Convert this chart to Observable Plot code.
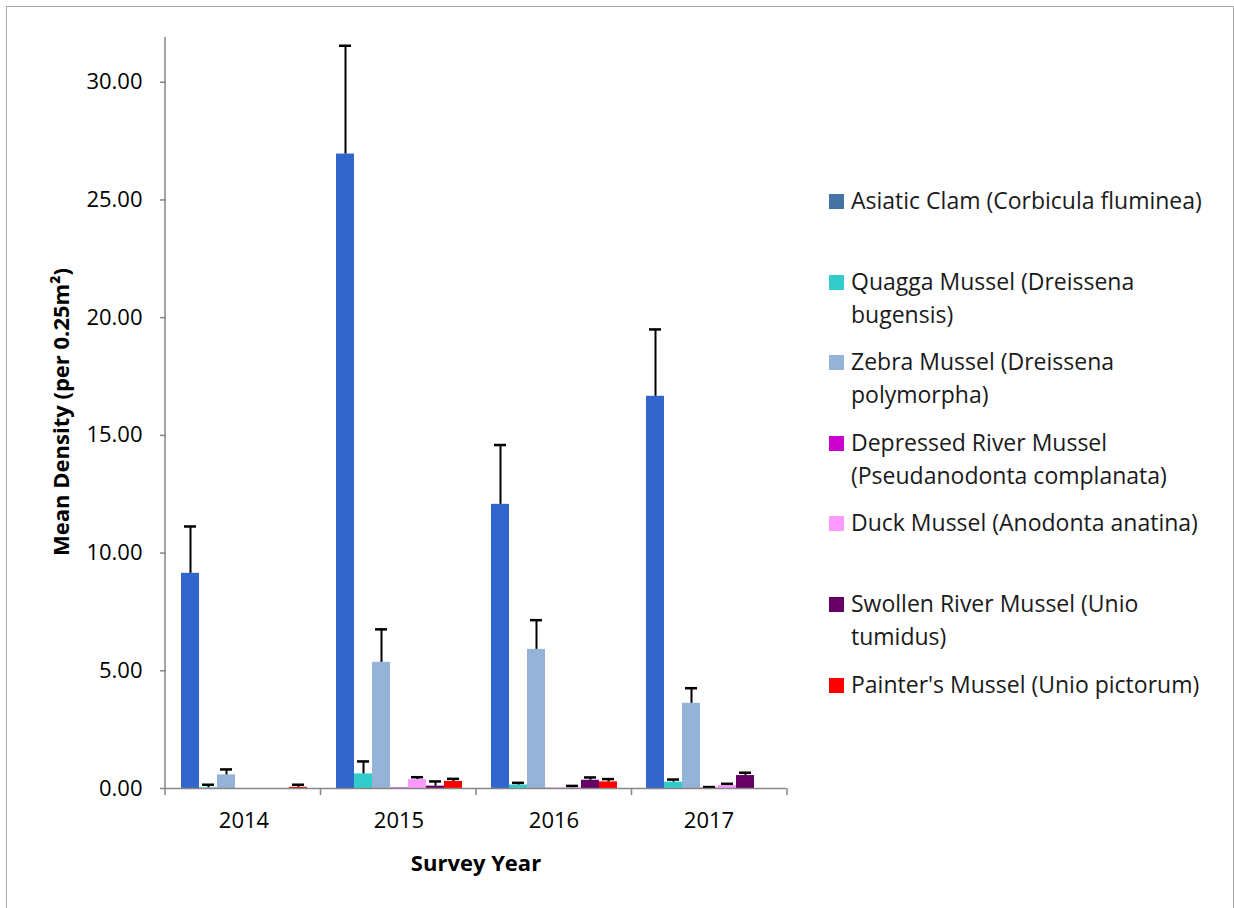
<!DOCTYPE html>
<html>
<head>
<meta charset="utf-8">
<script src="https://cdn.jsdelivr.net/npm/d3@7"></script>
<script src="https://cdn.jsdelivr.net/npm/@observablehq/plot@0.6"></script>
<style>
  html, body { margin: 0; padding: 0; background: #fff; }
  body { width: 1234px; height: 908px; position: relative; overflow: hidden; font-family: "Open Sans", sans-serif; }
  #frame { position: absolute; left: 6px; top: 6px; width: 1228px; height: 910px; border: 1.5px solid #a6a6a6; box-sizing: border-box; }
  #chart { position: absolute; left: 0; top: 0; }
  .ylabel { position: absolute; left: 60px; top: 412px; transform: translate(-50%, -50%) rotate(-90deg); font-weight: bold; font-size: 22px; white-space: nowrap; color: #000; }
  .xlabel { position: absolute; left: 476px; top: 862px; transform: translate(-50%, -50%); font-weight: bold; font-size: 22px; white-space: nowrap; color: #000; }
  .legend-item { position: absolute; left: 829px; display: flex; align-items: flex-start; }
  .sw { width: 15px; height: 15px; margin-top: -7px; flex: none; }
  .lt { margin-left: 7px; font-size: 23px; line-height: 33px; margin-top: -17px; color: #1a1a1a; white-space: nowrap; }
</style>
</head>
<body>
<div id="frame"></div>
<div id="chart"></div>
<div class="ylabel">Mean Density (per 0.25m²)</div>
<div class="xlabel">Survey Year</div>
<div id="legend"></div>
<script>
// ---- data ----
const years = ["2014", "2015", "2016", "2017"];
const species = [
  "Asiatic Clam (Corbicula fluminea)",
  "Quagga Mussel (Dreissena bugensis)",
  "Zebra Mussel (Dreissena polymorpha)",
  "Depressed River Mussel (Pseudanodonta complanata)",
  "Duck Mussel (Anodonta anatina)",
  "Swollen River Mussel (Unio tumidus)",
  "Painter's Mussel (Unio pictorum)"
];
const legendLines = [
  ["Asiatic Clam (Corbicula fluminea)"],
  ["Quagga Mussel (Dreissena", "bugensis)"],
  ["Zebra Mussel (Dreissena", "polymorpha)"],
  ["Depressed River Mussel", "(Pseudanodonta complanata)"],
  ["Duck Mussel (Anodonta anatina)"],
  ["Swollen River Mussel (Unio", "tumidus)"],
  ["Painter's Mussel (Unio pictorum)"]
];
// mean density per year (2014..2017), one array per species
const asiaticMean   = [9.14, 26.95, 12.07, 16.66];
const quaggaMean    = [0.03, 0.62, 0.15, 0.27];
const zebraMean     = [0.58, 5.36, 5.91, 3.62];
const depressedMean = [0.00, 0.02, 0.01, 0.02];
const duckMean      = [0.00, 0.38, 0.03, 0.13];
const swollenMean   = [0.00, 0.10, 0.35, 0.55];
const painterMean   = [0.05, 0.30, 0.28, 0.00];
// standard error (upper error bar)
const asiaticSE   = [1.99, 4.60, 2.52, 2.84];
const quaggaSE    = [0.13, 0.53, 0.09, 0.11];
const zebraSE     = [0.23, 1.40, 1.24, 0.64];
const depressedSE = [0.00, 0.00, 0.00, 0.04];
const duckSE      = [0.00, 0.10, 0.08, 0.07];
const swollenSE   = [0.00, 0.20, 0.12, 0.12];
const painterSE   = [0.11, 0.11, 0.12, 0.00];
const yTicks = [0, 5, 10, 15, 20, 25, 30];

const barColors = ["#3366cc", "#33cccc", "#95b3d7", "#cc00cc", "#ff99ff", "#660066", "#ff0000"];
const swatchColors = ["#4672a4", "#33cccc", "#95b3d7", "#cc00cc", "#ff99ff", "#660066", "#ff0000"];

const means = [asiaticMean, quaggaMean, zebraMean, depressedMean, duckMean, swollenMean, painterMean];
const ses = [asiaticSE, quaggaSE, zebraSE, depressedSE, duckSE, swollenSE, painterSE];
const rows = [];
species.forEach((s, i) => years.forEach((y, j) => rows.push({year: y, species: s, value: means[i][j], se: ses[i][j]})));
const errRows = rows.filter(d => d.se > 0);

const axisGrey = "#868686";
const plot = Plot.plot({
  width: 800,
  height: 908,
  marginLeft: 165,
  marginRight: 13,
  marginTop: 37,
  marginBottom: 120,
  style: {fontFamily: "'Open Sans', sans-serif", background: "transparent", overflow: "visible"},
  fx: {domain: years, paddingInner: 0, paddingOuter: 0, label: null},
  x: {domain: species, paddingInner: 0, paddingOuter: 0.7, axis: null},
  y: {domain: [0, 31.9], axis: null},
  color: {domain: species, range: barColors},
  marks: [
    Plot.barY(rows, {fx: "year", x: "species", y: "value", fill: "species"}),
    Plot.ruleX(errRows, {fx: "year", x: "species", y1: "value", y2: d => d.value + d.se, stroke: "black", strokeWidth: 2}),
    Plot.tickY(errRows, {fx: "year", x: "species", y: d => d.value + d.se, stroke: "black", strokeWidth: 2.5, insetLeft: 3, insetRight: 3}),
    Plot.ruleY([0], {stroke: axisGrey, strokeWidth: 1.5}),
    Plot.axisY({ticks: yTicks, tickFormat: d3.format(".2f"), tickSize: 6, tickPadding: 18, stroke: axisGrey, strokeWidth: 1.5, fill: "black", fontSize: 22, label: null}),
    Plot.axisFx({anchor: "bottom", tickSize: 0, tickPadding: 24, fill: "black", fontSize: 22, label: null})
  ]
});
document.getElementById("chart").appendChild(plot);

// y axis line and category boundary ticks, placed with the plot's own scales
const fxs = plot.scale("fx");
const ys = plot.scale("y");
const band = d3.scaleBand().domain(fxs.domain).range(fxs.range).paddingInner(0).paddingOuter(0);
const svg = d3.select(plot);
const yBottom = ys.range[0], yTop = ys.range[1];
const g = svg.append("g").attr("stroke", axisGrey).attr("stroke-width", 1.5);
g.append("line").attr("x1", band.range()[0]).attr("x2", band.range()[0]).attr("y1", yTop).attr("y2", yBottom);
const edges = years.map(y => band(y)).concat([band(years[years.length - 1]) + band.bandwidth()]);
edges.forEach(x => g.append("line").attr("x1", x).attr("x2", x).attr("y1", yBottom).attr("y2", yBottom + 7));

// legend
const legend = document.getElementById("legend");
legendLines.forEach((lines, i) => {
  const item = document.createElement("div");
  item.className = "legend-item";
  item.style.top = (201 + i * 80.6) + "px";
  const sw = document.createElement("div");
  sw.className = "sw";
  sw.style.background = swatchColors[i];
  const t = document.createElement("div");
  t.className = "lt";
  t.innerHTML = lines.join("<br>");
  item.appendChild(sw); item.appendChild(t);
  legend.appendChild(item);
});
</script>
</body>
</html>
